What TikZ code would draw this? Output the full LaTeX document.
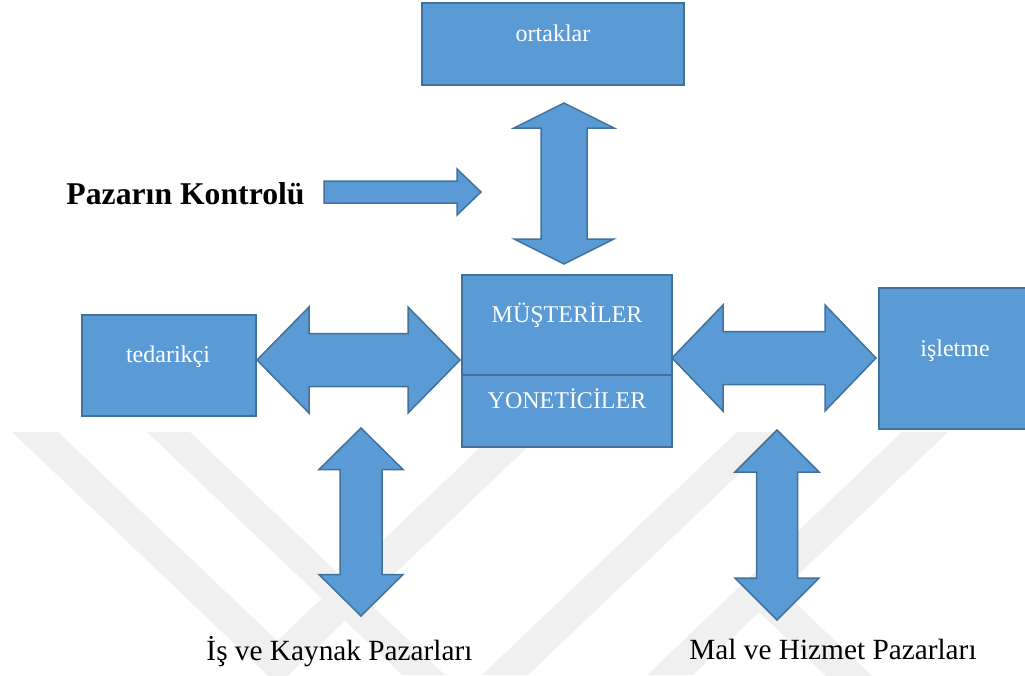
\documentclass[tikz,border=0pt]{standalone}
\usepackage{fontspec}
\setmainfont{Liberation Serif}
\definecolor{boxfill}{HTML}{5B9BD5}
\definecolor{boxline}{HTML}{41719C}
\definecolor{wmgray}{HTML}{F0F0F0}

% horizontal double block arrow: cy, left tip, right tip, head length, shaft half, head half
\newcommand\hdblarrow[6]{%
  \draw[blk] (#2,#1) -- ({#2+#4},{#1-#6}) -- ({#2+#4},{#1-#5}) -- ({#3-#4},{#1-#5})
    -- ({#3-#4},{#1-#6}) -- (#3,#1) -- ({#3-#4},{#1+#6}) -- ({#3-#4},{#1+#5})
    -- ({#2+#4},{#1+#5}) -- ({#2+#4},{#1+#6}) -- cycle;}
% vertical double block arrow: cx, top tip, bottom tip, head length, shaft half, head half
\newcommand\vdblarrow[6]{%
  \draw[blk] (#1,#2) -- ({#1+#6},{#2+#4}) -- ({#1+#5},{#2+#4}) -- ({#1+#5},{#3-#4})
    -- ({#1+#6},{#3-#4}) -- (#1,#3) -- ({#1-#6},{#3-#4}) -- ({#1-#5},{#3-#4})
    -- ({#1-#5},{#2+#4}) -- ({#1-#6},{#2+#4}) -- cycle;}

\begin{document}
\begin{tikzpicture}[x=1pt,y=-1pt,
  blk/.style={draw=boxline,fill=boxfill,line width=1.5pt,line join=miter},
  boxlabel/.style={text=white,font=\fontsize{24}{28}\selectfont,anchor=base,inner sep=0pt},
  marketlabel/.style={text=black,font=\fontsize{29.3}{34}\selectfont,anchor=base,inner sep=0pt}]
\useasboundingbox (0,0) rectangle (1025,675);

% faint background stripes
\begin{scope}
  \clip (0,432) rectangle (1025,675);
  \fill[wmgray] (12,432) -- (277.8,685) -- (543.5,432) -- (496.5,432) -- (277.2,640.8) -- (58,432) -- cycle;
  \fill[wmgray] (147,432) -- (190,432) -- (445,675) -- (402,675) -- cycle;
  \fill[wmgray] (737,432) -- (783,432) -- (528,675) -- (482,675) -- cycle;
  \fill[wmgray] (902,432) -- (948,432) -- (693,675) -- (647,675) -- cycle;
  \fill[wmgray] (736,590) -- (782,590) -- (874,678) -- (828,678) -- cycle;
\end{scope}

% boxes
\node[blk,minimum width=262pt,minimum height=82pt,inner sep=0pt] (ortbox) at (553,44) {};
\node[blk,minimum width=174pt,minimum height=101pt,inner sep=0pt] (tedbox) at (169,365.5) {};
\node[blk,minimum width=210pt,minimum height=100pt,inner sep=0pt] (musbox) at (567,325) {};
\node[blk,minimum width=210pt,minimum height=72pt,inner sep=0pt] (yonbox) at (567,411) {};
\node[blk,minimum width=153pt,minimum height=141pt,inner sep=0pt] (islbox) at (955.5,358.5) {};

\node[boxlabel] (ort) at (553,41) {ortaklar};
\node[boxlabel] (ted) at (168,362) {tedarikçi};
\node[boxlabel] (mus) at (567,322) {MÜŞTERİLER};
\node[boxlabel] (yon) at (567,408) {YONETİCİLER};
\node[boxlabel] (isl) at (955,356) {işletme};

% block arrows
\vdblarrow{564}{103}{264}{25}{23}{50}
\hdblarrow{360}{257}{460}{52}{26.5}{53}
\hdblarrow{358}{672}{876}{51}{26.5}{53}
\vdblarrow{361}{428}{616}{41.5}{21}{42}
\vdblarrow{777}{430}{620}{42}{20.5}{42}
\draw[blk] (324,181) -- (457,181) -- (457,169) -- (481,192) -- (457,215) -- (457,203) -- (324,203) -- cycle;

% labels
\node[anchor=base,inner sep=0pt,font=\fontsize{31.7}{36}\selectfont\bfseries] (ctrl) at (185.5,204) {Pazarın Kontrolü};
\node[marketlabel] (iskay) at (339.5,660) {İş ve Kaynak Pazarları};
\node[marketlabel] (malhiz) at (833,659) {Mal ve Hizmet Pazarları};
\end{tikzpicture}
\end{document}
